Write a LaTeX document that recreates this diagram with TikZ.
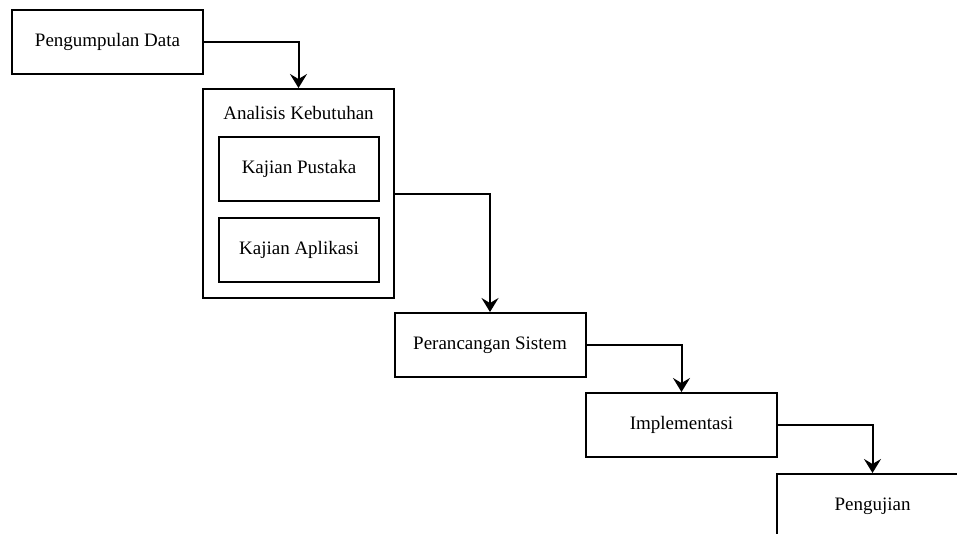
\documentclass[tikz,border=0pt]{standalone}
\usepackage{fontspec}
\setmainfont{Liberation Serif}
\usetikzlibrary{arrows.meta}

\begin{document}
\begin{tikzpicture}[x=1pt,y=-1pt,
  font=\fontsize{19}{23}\selectfont,
  box/.style={draw,line width=2pt,minimum width=191pt,minimum height=64pt,inner sep=0pt},
  subbox/.style={box,minimum width=160pt},
  flow/.style={line width=2pt,-{Stealth[length=14pt,width=17pt,inset=5pt]}}]
\path[use as bounding box,clip] (0,0) rectangle (957,533);

\node[box] (pd) at (107.5,41.5) {Pengumpulan Data};
\node[box,minimum height=209pt] (ak) at (298.5,193.5) {};
\node (akt) at (298.5,113) {Analisis Kebutuhan};
\node[subbox] (kp) at (299,169) {Kajian Pustaka};
\node[subbox] (ka) at (299,249.5) {Kajian Aplikasi};
\node[box] (ps) at (490,345) {Perancangan Sistem};
\node[box] (im) at (681.5,425) {Implementasi};
\node[box] (pg) at (872.5,506) {Pengujian};

\draw[flow] (pd.east) -| (ak.north);
\draw[flow] (ak.east) -| (ps.north);
\draw[flow] (ps.east) -| (im.north);
\draw[flow] (im.east) -| (pg.north);
\end{tikzpicture}
\end{document}
